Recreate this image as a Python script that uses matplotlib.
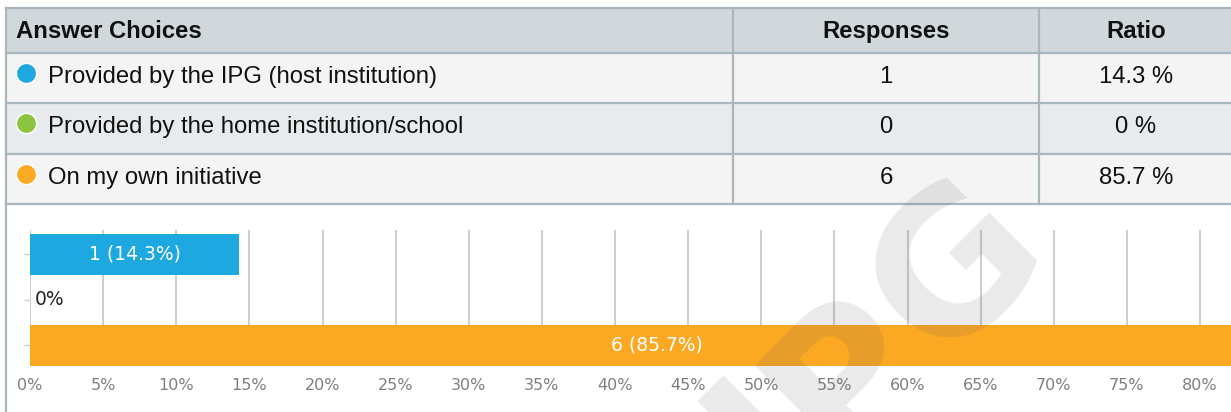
import matplotlib
matplotlib.use("Agg")
import matplotlib.pyplot as plt
from matplotlib.patches import Rectangle
from matplotlib.lines import Line2D
from matplotlib.ticker import MultipleLocator, FuncFormatter

# ---- data ----
headers = ["Answer Choices", "Responses", "Ratio"]
choices = ["Provided by the IPG (host institution)",
           "Provided by the home institution/school",
           "On my own initiative"]
responses = [1, 0, 6]
ratios = [14.3, 0, 85.7]
watermark = "IPG"

# ---- styles ----
dot_colors = ["#1ea8e0", "#8cc43f", "#fba823"]
header_bg = "#d0d8dc"
row_bgs = ["#f4f4f4", "#e8ebed", "#f4f4f4"]
border = "#a9b6bd"

W, H = 1231, 412
DPI = 100
fig = plt.figure(figsize=(W / DPI, H / DPI), dpi=DPI)
fig.patch.set_facecolor("white")


def fx(x):
    return x / W


def fy(y):
    return 1 - y / H


TFONT = ["Liberation Sans", "DejaVu Sans"]
CFONT = ["DejaVu Sans"]
TSIZE = 17.2

# ---- table ----
tbl_left, tbl_right = 6, 1233
col_edges = [6, 733, 1039, 1233]
row_edges = [8, 53, 103, 154, 204]

fig.add_artist(Rectangle((fx(tbl_left), fy(row_edges[1])),
                         fx(tbl_right - tbl_left), (row_edges[1] - row_edges[0]) / H,
                         transform=fig.transFigure, facecolor=header_bg,
                         edgecolor="none", zorder=1))
for i in range(3):
    y0, y1 = row_edges[i + 1], row_edges[i + 2]
    fig.add_artist(Rectangle((fx(tbl_left), fy(y1)), fx(tbl_right - tbl_left),
                             (y1 - y0) / H, transform=fig.transFigure,
                             facecolor=row_bgs[i], edgecolor="none", zorder=1))

for y in row_edges:
    fig.add_artist(Line2D([fx(tbl_left), fx(tbl_right)], [fy(y), fy(y)],
                          transform=fig.transFigure, color=border, lw=1.6, zorder=2))
for x in col_edges[:-1]:
    fig.add_artist(Line2D([fx(x), fx(x)], [fy(row_edges[0]), fy(row_edges[-1])],
                          transform=fig.transFigure, color=border, lw=1.6, zorder=2))
fig.add_artist(Line2D([fx(6), fx(6)], [fy(204), fy(412)],
                      transform=fig.transFigure, color=border, lw=1.6, zorder=2))

hy = (row_edges[0] + row_edges[1]) / 2 + 1
resp_x = (col_edges[1] + col_edges[2]) / 2
ratio_x = 1136
fig.text(fx(16), fy(hy), headers[0], ha="left", va="center", fontsize=TSIZE,
         fontweight="bold", family=TFONT, color="#111111", zorder=3)
fig.text(fx(resp_x), fy(hy), headers[1], ha="center", va="center", fontsize=TSIZE,
         fontweight="bold", family=TFONT, color="#111111", zorder=3)
fig.text(fx(ratio_x), fy(hy), headers[2], ha="center", va="center", fontsize=TSIZE,
         fontweight="bold", family=TFONT, color="#111111", zorder=3)

for i, (c, n, r) in enumerate(zip(choices, responses, ratios)):
    yc = (row_edges[i + 1] + row_edges[i + 2]) / 2 - 1.0
    fig.add_artist(Line2D([fx(26)], [fy(yc - 4)], transform=fig.transFigure,
                          marker="o", markersize=14.5, markerfacecolor=dot_colors[i],
                          markeredgecolor="white", markeredgewidth=1.0,
                          linestyle="none", zorder=3))
    fig.text(fx(48), fy(yc), c, ha="left", va="center", fontsize=TSIZE,
             family=TFONT, color="#111111", zorder=3)
    fig.text(fx(resp_x), fy(yc), f"{n}", ha="center", va="center", fontsize=TSIZE,
             family=TFONT, color="#111111", zorder=3)
    fig.text(fx(ratio_x), fy(yc), f"{r:g} %", ha="center", va="center",
             fontsize=TSIZE, family=TFONT, color="#111111", zorder=3)

# ---- bar chart ----
px_per_pct = 14.625
x0 = 30
ax_top, ax_bot = 230, 366
ax = fig.add_axes([fx(x0), fy(ax_bot), 1 - fx(x0), (ax_bot - ax_top) / H])
ax.set_facecolor("none")
cats = list(range(len(choices)))
ax.barh(cats, ratios, height=0.9, color=dot_colors, zorder=3)
ax.set_xlim(0, (W - x0) / px_per_pct)
ax.set_ylim(2.45, -0.53)
ax.xaxis.set_major_locator(MultipleLocator(5))
ax.xaxis.set_major_formatter(FuncFormatter(lambda v, p: f"{v:g}%"))
ax.grid(axis="x", color="#cfcfcf", lw=1.5, zorder=0)
ax.set_axisbelow(True)
for s in ax.spines.values():
    s.set_visible(False)
ax.tick_params(axis="x", length=0, pad=9, labelsize=11.5, labelcolor="#7f7f7f")
for lab in ax.get_xticklabels():
    lab.set_family(CFONT)
ax.set_yticks(cats)
ax.set_yticklabels([])
ax.tick_params(axis="y", length=4, width=1, color="#c8d2dc", pad=1)

for i, (n, r) in enumerate(zip(responses, ratios)):
    if r > 0:
        ax.text(r / 2, i, f"{n} ({r:g}%)", ha="center", va="center", color="white",
                fontsize=13.5, family=CFONT, zorder=4)
    else:
        ax.text(r + 0.35, i, f"{r:g}%", ha="left", va="center", color="#222222",
                fontsize=13.5, family=CFONT, zorder=4)

# ---- watermark (letters along a 45 degree line) ----
wm_pos = [(768, 438), (849, 377), (958, 269)]
for ch, (px, py) in zip(watermark, wm_pos):
    fig.text(fx(px), fy(py), ch, ha="center", va="center", rotation=45,
             rotation_mode="anchor", fontsize=140, fontweight="bold",
             family=["DejaVu Sans"], color="#585858", alpha=0.13, zorder=10)

fig.savefig("out.png", dpi=DPI, facecolor="white")
